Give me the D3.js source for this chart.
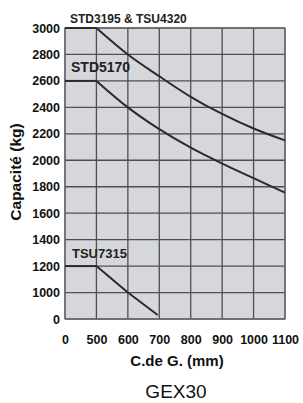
<!DOCTYPE html>
<html><head><meta charset="utf-8">
<script src="https://cdn.jsdelivr.net/npm/d3@7"></script>
<style>
html,body{margin:0;padding:0;background:#fff;}
svg{display:block;font-family:"Liberation Sans",Arial,sans-serif;}
</style></head>
<body>
<svg id="c" width="303" height="403"></svg>
<script>
// Data
const xTicks = [0, 500, 600, 700, 800, 900, 1000, 1100];
const yTicks = [0, 1000, 1200, 1400, 1600, 1800, 2000, 2200, 2400, 2600, 2800, 3000];
const seriesNames = ["STD3195 & TSU4320", "STD5170", "TSU7315"];
const cogTop = [0, 500, 600, 700, 800, 900, 1000, 1100];
const capTop = [3000, 3000, 2800, 2635, 2480, 2350, 2240, 2150];
const cogMid = [0, 500, 600, 700, 800, 900, 1000, 1100];
const capMid = [2600, 2600, 2400, 2235, 2095, 1975, 1865, 1755];
const cogLow = [0, 500, 600, 695];
const capLow = [1200, 1200, 1000, 150];
const xTitle = "C.de G. (mm)";
const yTitle = "Capacité (kg)";
const chartTitle = "GEX30";

const svg = d3.select("#c");
const L = 65, R = 285, T = 28, B = 319;

const x = d3.scaleLinear()
  .domain(xTicks)
  .range(xTicks.map((d, i) => L + (R - L) * i / (xTicks.length - 1)));
const y = d3.scaleLinear()
  .domain(yTicks)
  .range(yTicks.map((d, i) => B - (B - T) * i / (yTicks.length - 1)));

// plot background
svg.append("rect").attr("x", L).attr("y", T).attr("width", R - L).attr("height", B - T)
  .attr("fill", "#d5d7da");

// grid
const g = svg.append("g");
g.selectAll(".vx").data(xTicks).join("line")
  .attr("x1", d => x(d)).attr("x2", d => x(d)).attr("y1", T).attr("y2", B)
  .attr("stroke", "#4d4f52").attr("stroke-width", 1.3);
g.selectAll(".hy").data(yTicks).join("line")
  .attr("x1", L).attr("x2", R).attr("y1", d => y(d)).attr("y2", d => y(d))
  .attr("stroke", "#4d4f52").attr("stroke-width", 1.3);
// frame
svg.append("rect").attr("x", L).attr("y", T).attr("width", R - L).attr("height", B - T)
  .attr("fill", "none").attr("stroke", "#6a6c70").attr("stroke-width", 1.2);

// axes labels
const yAxis = d3.axisLeft(y).tickValues(yTicks).tickSize(0).tickPadding(5).tickFormat(d3.format("d"));
const ya = svg.append("g").attr("transform", `translate(${L},0)`).call(yAxis);
ya.select(".domain").remove();
ya.selectAll("text").attr("font-size", 12.5).attr("font-weight", "bold")
  .attr("font-family", "Liberation Sans, Arial, sans-serif").attr("fill", "#111");

const xAxis = d3.axisBottom(x).tickValues(xTicks).tickSize(0).tickPadding(16).tickFormat(d3.format("d"));
const xa = svg.append("g").attr("transform", `translate(0,${B})`).call(xAxis);
xa.select(".domain").remove();
xa.selectAll("text").attr("font-size", 12.5).attr("font-weight", "bold")
  .attr("font-family", "Liberation Sans, Arial, sans-serif").attr("fill", "#111");

// curves: flat segment straight, descending part smooth
const flat = d3.line().x(d => x(d[0])).y(d => y(d[1]));
const smooth = d3.line().x(d => x(d[0])).y(d => y(d[1])).curve(d3.curveCatmullRom.alpha(0.5));
function drawSeries(cog, cap, curved) {
  const pts = d3.zip(cog, cap);
  const k = cog.indexOf(500);
  svg.append("path").attr("d", flat(pts.slice(0, k + 1)))
    .attr("fill", "none").attr("stroke", "#2b2b2d").attr("stroke-width", 2);
  svg.append("path").attr("d", (curved ? smooth : flat)(pts.slice(k)))
    .attr("fill", "none").attr("stroke", "#2b2b2d").attr("stroke-width", 2)
    .attr("stroke-linejoin", "round");
}
drawSeries(cogTop, capTop, true);
drawSeries(cogMid, capMid, true);
drawSeries(cogLow, capLow, false);

// series labels
svg.append("text").attr("x", 70).attr("y", 23).attr("font-size", 12).attr("font-weight", "bold")
  .attr("fill", "#222").text(seriesNames[0]);
svg.append("text").attr("x", 71).attr("y", 72).attr("font-size", 14).attr("font-weight", "bold")
  .attr("fill", "#222").text(seriesNames[1]);
svg.append("text").attr("x", 72).attr("y", 258).attr("font-size", 13).attr("font-weight", "bold")
  .attr("fill", "#222").text(seriesNames[2]);

// titles
svg.append("text").attr("x", 177).attr("y", 366).attr("text-anchor", "middle")
  .attr("font-size", 15).attr("font-weight", "bold").attr("fill", "#111").text(xTitle);
svg.append("text").attr("transform", "translate(21,172) rotate(-90)").attr("text-anchor", "middle")
  .attr("font-size", 15.5).attr("font-weight", "bold").attr("fill", "#111").text(yTitle);
svg.append("text").attr("x", 176).attr("y", 398).attr("text-anchor", "middle")
  .attr("font-size", 19).attr("fill", "#111").text(chartTitle);
</script>
</body></html>
